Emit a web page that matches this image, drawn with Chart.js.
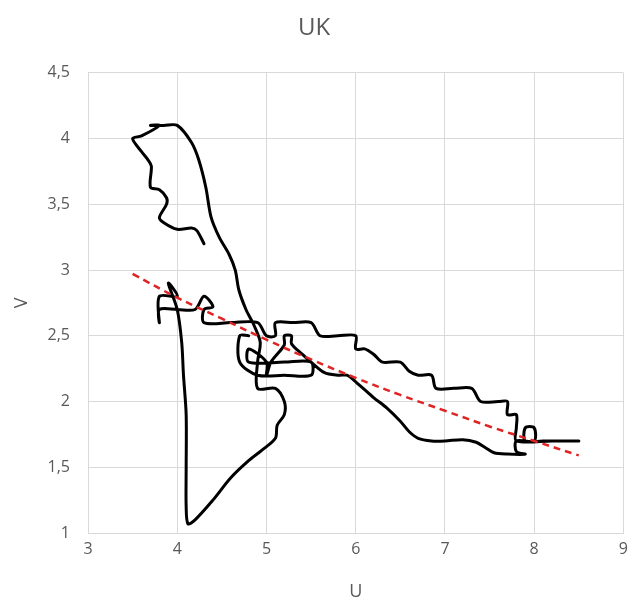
<!DOCTYPE html>
<html>
<head>
<meta charset="utf-8">
<script src="https://cdn.jsdelivr.net/npm/chart.js@4"></script>
<style>
  html, body { margin: 0; padding: 0; background: #fff; }
</style>
</head>
<body>
<canvas id="chart" width="635" height="605"></canvas>
<script>
// U (unemployment) and V (vacancies), in path order
const uValues = [
  4.8, 4.7, 4.7, 4.9, 5.2, 5.5, 5.5, 5.2, 4.8, 4.8,
  5.0, 5.0, 5.05, 5.2, 5.2, 5.28, 5.28, 5.4, 5.5, 5.65,
  5.8, 5.9, 6.0, 6.2, 6.35, 6.5, 6.6, 6.7, 6.85, 7.0,
  7.2, 7.35, 7.45, 7.55, 7.7, 7.9, 7.8, 7.8, 8.0, 8.0,
  7.9, 7.9, 8.1, 8.3, 8.5, 8.2, 7.8, 7.8, 7.8, 7.7,
  7.7, 7.6, 7.4, 7.3, 7.1, 6.9, 6.85, 6.7, 6.6, 6.5,
  6.3, 6.2, 6.1, 6.0, 6.0, 5.8, 5.6, 5.5, 5.3, 5.1,
  5.1, 5.0, 4.9, 4.6, 4.3, 4.3, 4.4, 4.3, 4.2, 4.0,
  3.8, 3.8, 3.8, 4.0, 3.9, 4.0, 4.05, 4.07, 4.1, 4.1,
  4.1, 4.12, 4.2, 4.4, 4.6, 4.8, 4.95, 5.1, 5.12, 5.2,
  5.2, 5.1, 4.9, 4.9, 4.93, 4.86, 4.77, 4.69, 4.65, 4.58,
  4.47, 4.38, 4.32, 4.24, 4.16, 4.0, 3.85, 3.7, 3.8, 3.6,
  3.5, 3.6, 3.67, 3.71, 3.7, 3.8, 3.88, 3.88, 3.8, 3.85,
  4.0, 4.16, 4.22, 4.3
];
const vValues = [
  2.5, 2.5, 2.3, 2.2, 2.2, 2.2, 2.3, 2.3, 2.3, 2.4,
  2.3, 2.2, 2.3, 2.43, 2.5, 2.5, 2.44, 2.36, 2.3, 2.22,
  2.2, 2.2, 2.15, 2.03, 1.95, 1.85, 1.77, 1.72, 1.7, 1.7,
  1.71, 1.69, 1.65, 1.61, 1.6, 1.6, 1.62, 1.7, 1.7, 1.8,
  1.8, 1.7, 1.7, 1.7, 1.7, 1.7, 1.7, 1.8, 1.9, 1.9,
  2.0, 2.0, 2.0, 2.1, 2.1, 2.1, 2.2, 2.2, 2.23, 2.3,
  2.3, 2.36, 2.4, 2.4, 2.5, 2.5, 2.5, 2.6, 2.6, 2.6,
  2.5, 2.5, 2.6, 2.6, 2.6, 2.7, 2.72, 2.8, 2.7, 2.7,
  2.7, 2.6, 2.8, 2.8, 2.9, 2.7, 2.45, 2.2, 1.9, 1.5,
  1.2, 1.07, 1.1, 1.25, 1.42, 1.55, 1.63, 1.72, 1.82, 1.9,
  2.0, 2.1, 2.1, 2.3, 2.45, 2.58, 2.7, 2.85, 3.0, 3.12,
  3.25, 3.4, 3.63, 3.84, 3.97, 4.1, 4.1, 4.1, 4.1, 4.02,
  4.0, 3.9, 3.84, 3.79, 3.63, 3.61, 3.55, 3.5, 3.4, 3.36,
  3.31, 3.32, 3.3, 3.2
];

// dashed red trend line
const trendU = [3.5, 4, 4.5, 5, 5.5, 6, 6.5, 7, 7.5, 8, 8.5];
const trendV = [2.97, 2.79, 2.63, 2.47, 2.32, 2.18, 2.05, 1.93, 1.81, 1.70, 1.59];

const xTicks = [3, 4, 5, 6, 7, 8, 9];
const yTicks = [1, 1.5, 2, 2.5, 3, 3.5, 4, 4.5];

const FONT = "'Open Sans', 'Liberation Sans', sans-serif";
const GREY = '#595959';
const GRID = '#d9d9d9';

function comma(v) { return String(v).replace('.', ','); }

const ctx = document.getElementById('chart');

const chart = new Chart(ctx, {
  type: 'scatter',
  data: {
    datasets: [
      {
        label: 'trend',
        data: trendU.map((u, i) => ({ x: u, y: trendV[i] })),
        showLine: true,
        borderColor: 'rgb(224, 36, 36)',
        borderWidth: 2.5,
        borderDash: [7, 5],
        pointRadius: 0,
        tension: 0.4,
        order: 0
      },
      {
        label: 'UK',
        data: uValues.map((u, i) => ({ x: u, y: vValues[i] })),
        showLine: true,
        borderColor: '#000',
        borderWidth: 3,
        borderCapStyle: 'round',
        borderJoinStyle: 'round',
        pointRadius: 0,
        tension: 0.3,
        order: 1
      }
    ]
  },
  options: {
    responsive: false,
    animation: false,
    devicePixelRatio: 1,
    layout: { padding: { left: 0, right: 7, top: 0, bottom: 0 } },
    plugins: {
      legend: { display: false },
      tooltip: { enabled: false },
      title: {
        display: true,
        text: 'UK',
        color: GREY,
        font: { family: FONT, size: 24, weight: 'normal' },
        padding: { top: 14, bottom: 30 }
      }
    },
    scales: {
      x: {
        type: 'linear',
        min: 3, max: 9,
        afterBuildTicks: s => { s.ticks = xTicks.map(v => ({ value: v })); },
        afterFit: s => { s.height = 72; },
        grid: { color: GRID, drawTicks: false },
        border: { color: GRID },
        ticks: { color: GREY, font: { family: FONT, size: 16 }, padding: 7, callback: v => comma(v) },
        title: { display: true, text: 'U', color: GREY, font: { family: FONT, size: 18 }, padding: { top: 0, bottom: 2 } }
      },
      y: {
        type: 'linear',
        min: 1, max: 4.5,
        afterBuildTicks: s => { s.ticks = yTicks.map(v => ({ value: v })); },
        afterFit: s => { s.width = 88; },
        grid: { color: GRID, drawTicks: false },
        border: { color: GRID },
        ticks: { color: GREY, font: { family: FONT, size: 16 }, padding: 18, callback: v => comma(v) },
        title: { display: true, text: 'V', color: GREY, font: { family: FONT, size: 18 }, padding: { top: 11, bottom: 0 } }
      }
    }
  }
});
</script>
</body>
</html>
